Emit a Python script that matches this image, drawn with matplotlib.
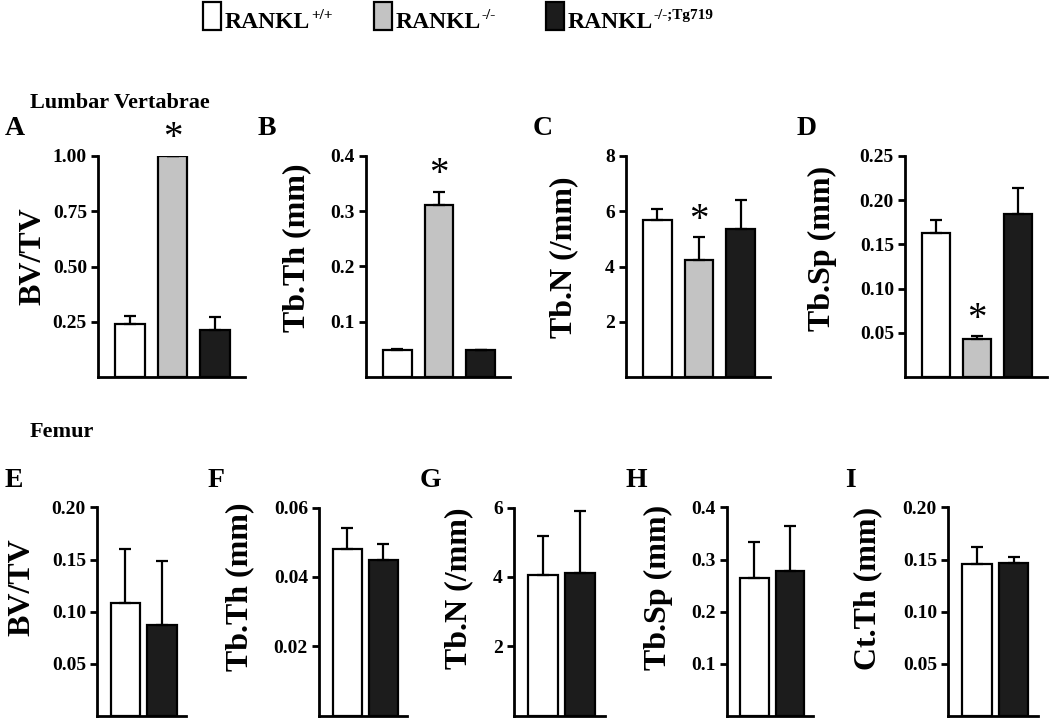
import numpy as np
import matplotlib
matplotlib.use("Agg")
import matplotlib.pyplot as plt
from matplotlib.patches import Rectangle

plt.rcParams['font.family'] = ['Liberation Serif', 'DejaVu Serif']
plt.rcParams['font.weight'] = 'bold'

W, H = 1050, 719

# groups / legend
groups = ['RANKL', 'RANKL', 'RANKL']
group_sup = ['+/+', '-/-', '-/-;Tg719']
colors = ['#ffffff', '#c3c3c3', '#1c1c1c']

# lumbar vertebrae (3 groups)
A_mean = [0.24, 1.00, 0.213]
A_err = [0.037, 0.0, 0.06]
B_mean = [0.048, 0.311, 0.048]
B_err = [0.002, 0.024, 0.0]
C_mean = [5.7, 4.25, 5.35]
C_err = [0.37, 0.8, 1.05]
D_mean = [0.163, 0.043, 0.184]
D_err = [0.015, 0.003, 0.030]
star_top = [False, True, False]

# femur (RANKL+/+ and RANKL-/-;Tg719)
E_mean = [0.108, 0.087]
E_err = [0.052, 0.062]
F_mean = [0.048, 0.045]
F_err = [0.006, 0.0045]
G_mean = [4.05, 4.1]
G_err = [1.12, 1.8]
H_mean = [0.265, 0.277]
H_err = [0.068, 0.088]
I_mean = [0.146, 0.147]
I_err = [0.016, 0.005]

ylabels_top = ['BV/TV', 'Tb.Th (mm)', 'Tb.N (/mm)', 'Tb.Sp (mm)']
ylabels_bot = ['BV/TV', 'Tb.Th (mm)', 'Tb.N (/mm)', 'Tb.Sp (mm)', 'Ct.Th (mm)']


def box(l, t, r, b):
    return [l / W, 1 - b / H, (r - l) / W, (b - t) / H]


fig = plt.figure(figsize=(W / 100, H / 100), dpi=100)


def panel(rect, means, errs, cols, ylim, ticks, fmt, xlim, width, stars=None):
    ax = fig.add_axes(rect)
    x = np.arange(len(means))
    ax.bar(x, means, width=width, color=cols, edgecolor='black', linewidth=1.6, zorder=2)
    ax.errorbar(x, means, yerr=[np.zeros(len(errs)), errs], fmt='none', ecolor='black',
                elinewidth=1.6, capsize=4.5, capthick=1.6, zorder=3)
    if stars is not None:
        for i, s in enumerate(stars):
            if s:
                ax.annotate('*', (x[i], means[i] + errs[i]), xytext=(0, -1),
                            textcoords='offset points', ha='center', va='bottom',
                            fontsize=28, fontweight='normal')
    ax.set_xlim(*xlim)
    ax.set_ylim(*ylim)
    ax.set_yticks(ticks)
    ax.set_yticklabels([fmt % t for t in ticks])
    ax.set_xticks([])
    for s in ['top', 'right']:
        ax.spines[s].set_visible(False)
    for s in ['left', 'bottom']:
        ax.spines[s].set_linewidth(2)
    ax.tick_params(axis='y', direction='out', length=5, width=2, labelsize=14, pad=3)
    ax.patch.set_alpha(0)
    return ax


# top row
top, bot = 156, 377
xl3 = (-0.75, 2.7)
panel(box(98, top, 245, bot), A_mean, A_err, colors, (0, 1.0), [0.25, 0.5, 0.75, 1.0], '%.2f', xl3, 0.69, star_top)
panel(box(366, top, 510, bot), B_mean, B_err, colors, (0, 0.4), [0.1, 0.2, 0.3, 0.4], '%.1f', xl3, 0.69, star_top)
panel(box(626, top, 770, bot), C_mean, C_err, colors, (0, 8), [2, 4, 6, 8], '%d', xl3, 0.69, star_top)
panel(box(905, top, 1047, bot), D_mean, D_err, colors, (0, 0.25), [0.05, 0.10, 0.15, 0.20, 0.25], '%.2f', xl3, 0.69, star_top)

# bottom row
top2, bot2 = 507.5, 715.5
c2 = [colors[0], colors[2]]
xl2 = (-0.78, 1.66)
panel(box(97, top2, 186, bot2), E_mean, E_err, c2, (0, 0.2), [0.05, 0.10, 0.15, 0.20], '%.2f', xl2, 0.8)
panel(box(319, top2, 407, bot2), F_mean, F_err, c2, (0, 0.06), [0.02, 0.04, 0.06], '%.2f', xl2, 0.8)
panel(box(514, top2, 605, bot2), G_mean, G_err, c2, (0, 6), [2, 4, 6], '%d', xl2, 0.8)
panel(box(727, top2, 813, bot2), H_mean, H_err, c2, (0, 0.4), [0.1, 0.2, 0.3, 0.4], '%.1f', xl2, 0.8)
panel(box(948, top2, 1038, bot2), I_mean, I_err, c2, (0, 0.2), [0.05, 0.10, 0.15, 0.20], '%.2f', xl2, 0.8)

# y labels
for lab, (x, y) in zip(ylabels_top, [(33, 256), (297, 248), (564, 257), (822, 248)]):
    fig.text(x / W, 1 - y / H, lab, rotation=90, ha='center', va='center', fontsize=23)
for lab, (x, y) in zip(ylabels_bot, [(22, 587), (240, 587), (459, 588), (658, 587), (868, 588)]):
    fig.text(x / W, 1 - y / H, lab, rotation=90, ha='center', va='center', fontsize=23)

# panel letters
for lab, (x, y) in zip('ABCDEFGHI', [(5, 135), (258, 135), (533, 135), (797, 135),
                                      (5, 487), (208, 487), (420, 487), (625, 487), (845, 487)]):
    fig.text(x / W, 1 - y / H, lab, ha='left', va='baseline', fontsize=20)

# section titles
fig.text(30 / W, 1 - 108 / H, 'Lumbar Vertabrae', ha='left', va='baseline', fontsize=16)
fig.text(30 / W, 1 - 437 / H, 'Femur', ha='left', va='baseline', fontsize=16)

# legend
for g, sup, col, x0 in zip(groups, group_sup, colors, [203, 374, 546]):
    fig.patches.append(Rectangle((x0 / W, 1 - 30 / H), 18 / W, 28 / H, transform=fig.transFigure,
                                 facecolor=col, edgecolor='black', linewidth=1.6))
    t = fig.text((x0 + 22) / W, 1 - 28 / H, g, ha='left', va='baseline', fontsize=17)
    plt.annotate(sup, xy=(1, 1), xycoords=t, xytext=(0.5, 2), textcoords='offset points',
                 ha='left', va='top', fontsize=11, annotation_clip=False)

fig.savefig('out.png', dpi=100)
